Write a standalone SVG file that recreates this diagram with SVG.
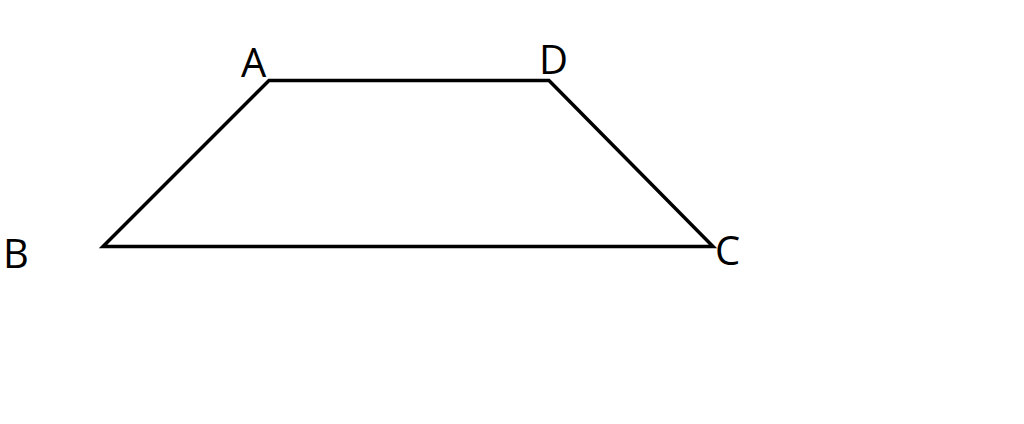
<svg xmlns="http://www.w3.org/2000/svg" width="1024" height="424" viewBox="0 0 1024 424">
<style>
.lbl{font-family:"Open Sans","Noto Sans",sans-serif;font-size:40px;fill:#000}
.edge{fill:none;stroke:#000;stroke-width:3.5;stroke-linejoin:miter}
</style>
<rect width="1024" height="424" fill="#fff"/>
<g id="connectors">
<path class="edge" d="M103,246.5 L269,80.5 L549,80.5 L713,246.5 Z"/>
</g>
<g id="node-A"><text class="lbl" x="241" y="77">A</text></g>
<g id="node-D"><text class="lbl" x="539" y="74">D</text></g>
<g id="node-B"><text class="lbl" x="3" y="268">B</text></g>
<g id="node-C"><text class="lbl" x="715" y="265">C</text></g>
</svg>
